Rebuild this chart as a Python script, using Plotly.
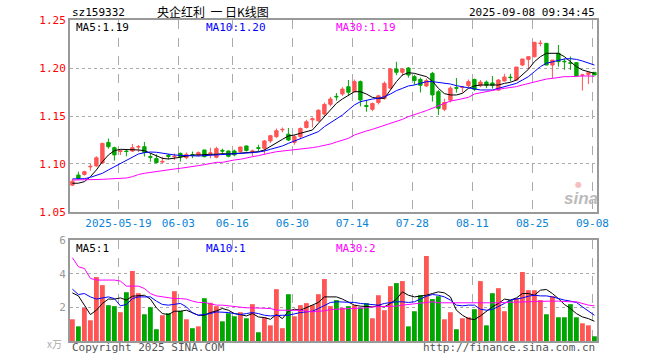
import pandas as pd
import plotly.graph_objects as go

# ---------------- data ----------------
dates = [d.strftime("%Y-%m-%d") for d in pd.bdate_range("2025-05-07", "2025-09-08")
         if d.strftime("%Y-%m-%d") != "2025-06-02"]

opens = [1.078, 1.0885, 1.089, 1.097, 1.098, 1.101, 1.1225, 1.117, 1.113, 1.1135,
         1.1135, 1.1177, 1.118, 1.1077, 1.1056, 1.102, 1.109, 1.1076, 1.111, 1.1066,
         1.1097, 1.1094, 1.1146, 1.111, 1.107, 1.1142, 1.1135, 1.1135, 1.113, 1.1188,
         1.1128, 1.117, 1.1164, 1.124, 1.1285, 1.1355, 1.131, 1.1225, 1.1285, 1.138,
         1.146, 1.145, 1.152, 1.1622, 1.1705, 1.173, 1.1805, 1.1753, 1.1858, 1.161,
         1.157, 1.164, 1.1684, 1.179, 1.199, 1.1955, 1.200, 1.191, 1.188, 1.1813,
         1.1944, 1.1753, 1.157, 1.1665, 1.1795, 1.1797, 1.1816, 1.188, 1.1816, 1.1853,
         1.1844, 1.177, 1.1865, 1.1905, 1.1875, 1.2031, 1.209, 1.2118, 1.2255, 1.2257,
         1.2031, 1.2153, 1.207, 1.2055, 1.2056, 1.1925, 1.1934, 1.1955]
highs = [1.084, 1.092, 1.093, 1.100, 1.108, 1.122, 1.1265, 1.118, 1.1153, 1.1153,
         1.1208, 1.1198, 1.123, 1.111, 1.110, 1.1076, 1.1104, 1.111, 1.112, 1.112,
         1.113, 1.113, 1.1146, 1.117, 1.118, 1.116, 1.114, 1.115, 1.118, 1.119,
         1.115, 1.120, 1.125, 1.130, 1.137, 1.138, 1.1375, 1.1305, 1.138, 1.146,
         1.1485, 1.157, 1.164, 1.170, 1.174, 1.180, 1.1875, 1.188, 1.187, 1.1667,
         1.164, 1.172, 1.186, 1.200, 1.2065, 1.200, 1.201, 1.193, 1.190, 1.189,
         1.196, 1.177, 1.168, 1.181, 1.1896, 1.181, 1.188, 1.189, 1.1875, 1.187,
         1.1917, 1.1885, 1.194, 1.194, 1.201, 1.2094, 1.2125, 1.2268, 1.229, 1.2257,
         1.2083, 1.224, 1.210, 1.212, 1.2056, 1.194, 1.195, 1.1955]
lows = [1.077, 1.084, 1.088, 1.093, 1.097, 1.100, 1.116, 1.1035, 1.1094, 1.108,
        1.1125, 1.1125, 1.1077, 1.1024, 1.1007, 1.1007, 1.1049, 1.104, 1.1024, 1.105,
        1.106, 1.108, 1.107, 1.106, 1.106, 1.111, 1.107, 1.108, 1.112, 1.113,
        1.108, 1.113, 1.110, 1.122, 1.127, 1.133, 1.124, 1.120, 1.126, 1.137,
        1.138, 1.144, 1.150, 1.160, 1.166, 1.171, 1.1715, 1.1745, 1.160, 1.1545,
        1.155, 1.162, 1.167, 1.178, 1.1925, 1.192, 1.190, 1.1825, 1.1745, 1.180,
        1.165, 1.151, 1.155, 1.164, 1.1743, 1.1743, 1.180, 1.176, 1.180, 1.179,
        1.1785, 1.176, 1.186, 1.186, 1.187, 1.202, 1.1986, 1.211, 1.2225, 1.203,
        1.1893, 1.2014, 1.198, 1.198, 1.1917, 1.1764, 1.1833, 1.1927]
closes = [1.082, 1.085, 1.092, 1.0975, 1.1065, 1.1215, 1.118, 1.1095, 1.1137, 1.113,
          1.117, 1.118, 1.112, 1.107, 1.1014, 1.1027, 1.108, 1.108, 1.1076, 1.110,
          1.109, 1.1118, 1.1076, 1.1115, 1.116, 1.1135, 1.108, 1.1095, 1.1177, 1.114,
          1.1135, 1.1164, 1.124, 1.1295, 1.1347, 1.136, 1.125, 1.1285, 1.137, 1.144,
          1.147, 1.156, 1.162, 1.1677, 1.170, 1.178, 1.1747, 1.1858, 1.1667, 1.160,
          1.163, 1.171, 1.184, 1.199, 1.1955, 1.199, 1.1927, 1.187, 1.182, 1.1868,
          1.172, 1.158, 1.164, 1.179, 1.179, 1.180, 1.1858, 1.1778, 1.1853, 1.182,
          1.182, 1.1875, 1.1906, 1.190, 1.201, 1.2094, 1.2118, 1.2268, 1.2258, 1.2031,
          1.2083, 1.2066, 1.2066, 1.205, 1.1917, 1.1927, 1.195, 1.1927]

ma5 = [1.0799, 1.0800, 1.0816, 1.0868, 1.0938, 1.1024, 1.1094, 1.1139, 1.1153, 1.1153,
       1.1146, 1.1146, 1.1139, 1.1111, 1.1083, 1.1059, 1.1052, 1.1059, 1.1070, 1.1083,
       1.1094, 1.1094, 1.1101, 1.1101, 1.1101, 1.1108, 1.1104, 1.1108, 1.1115, 1.1118,
       1.1122, 1.1128, 1.1146, 1.1180, 1.1222, 1.1257, 1.1292, 1.1302, 1.1320, 1.1337,
       1.1354, 1.1424, 1.1493, 1.1570, 1.1632, 1.1677, 1.1719, 1.1753, 1.1753, 1.1729,
       1.1694, 1.1684, 1.1684, 1.1771, 1.1858, 1.1927, 1.1951, 1.1944, 1.1927, 1.1910,
       1.1863, 1.1788, 1.1733, 1.1719, 1.1719, 1.1736, 1.1788, 1.1813, 1.1823, 1.1823,
       1.1823, 1.1823, 1.1840, 1.1851, 1.1875, 1.1927, 1.1986, 1.2066, 1.2118, 1.2153,
       1.2153, 1.2153, 1.2118, 1.2066, 1.2014, 1.1979, 1.1962, 1.1944]
ma10 = [1.0844, 1.0844, 1.0847, 1.0861, 1.0882, 1.0903, 1.0938, 1.0972, 1.1007, 1.1042,
        1.1076, 1.1104, 1.1118, 1.1125, 1.1122, 1.1111, 1.1101, 1.1094, 1.1090, 1.1087,
        1.1083, 1.1083, 1.1087, 1.1090, 1.1097, 1.1101, 1.1104, 1.1108, 1.1111, 1.1115,
        1.1118, 1.1125, 1.1135, 1.1153, 1.1170, 1.1188, 1.1215, 1.1240, 1.1267, 1.1285,
        1.1309, 1.1337, 1.1389, 1.1431, 1.1469, 1.1510, 1.1563, 1.1615, 1.1649, 1.1667,
        1.1677, 1.1684, 1.1701, 1.1729, 1.1764, 1.1788, 1.1813, 1.1823, 1.1840, 1.1858,
        1.1858, 1.1851, 1.1840, 1.1833, 1.1816, 1.1806, 1.1795, 1.1781, 1.1771, 1.1771,
        1.1771, 1.1788, 1.1806, 1.1823, 1.1840, 1.1875, 1.1910, 1.1962, 1.2014, 1.2049,
        1.2066, 1.2076, 1.2094, 1.2097, 1.2090, 1.2073, 1.2056, 1.2031]
ma30 = [1.0833, 1.0833, 1.0833, 1.0833, 1.0836, 1.0840, 1.0844, 1.0847, 1.0851, 1.0854,
        1.0868, 1.0890, 1.0903, 1.0913, 1.0920, 1.0931, 1.0938, 1.0948, 1.0955, 1.0962,
        1.0972, 1.0983, 1.0993, 1.1007, 1.1017, 1.1017, 1.1031, 1.1042, 1.1049, 1.1059,
        1.1076, 1.1087, 1.1104, 1.1115, 1.1128, 1.1135, 1.1135, 1.1146, 1.1153, 1.1160,
        1.1170, 1.1181, 1.1191, 1.1208, 1.1229, 1.1250, 1.1267, 1.1302, 1.1326, 1.1344,
        1.1361, 1.1382, 1.1396, 1.1417, 1.1441, 1.1465, 1.1493, 1.1510, 1.1535, 1.1556,
        1.1580, 1.1604, 1.1625, 1.1656, 1.1667, 1.1684, 1.1694, 1.1729, 1.1743, 1.1753,
        1.1771, 1.1778, 1.1788, 1.1795, 1.1806, 1.1823, 1.1840, 1.1858, 1.1875, 1.1885,
        1.1892, 1.1903, 1.1910, 1.1910, 1.1917, 1.1917, 1.1917, 1.1913]

volume = [1.29, 0.87, 1.97, 1.23, 3.80, 3.32, 2.13, 2.07, 1.71, 2.90,
          4.16, 2.84, 1.59, 2.01, 0.70, 1.53, 1.65, 2.96, 1.79, 1.29,
          0.76, 0.87, 2.54, 2.27, 2.07, 1.17, 1.65, 1.47, 1.71, 1.35,
          2.19, 0.52, 1.41, 0.93, 3.08, 0.76, 2.78, 1.47, 2.13, 2.25,
          2.13, 2.78, 3.68, 2.07, 2.43, 1.97, 2.07, 2.13, 1.97, 2.25,
          1.35, 2.72, 1.83, 3.26, 3.44, 3.56, 0.87, 1.77, 2.72, 5.05,
          2.49, 2.66, 1.29, 1.71, 0.70, 1.35, 1.41, 1.89, 3.56, 0.93,
          2.84, 3.14, 1.77, 2.43, 2.54, 4.10, 3.02, 3.02, 2.43, 1.59,
          2.66, 1.41, 1.41, 2.19, 1.41, 1.05, 0.93, 0.28]
vma5 = [2.86, 2.68, 2.13, 1.57, 1.83, 2.23, 2.49, 2.49, 2.56, 2.43,
        2.66, 2.68, 2.72, 2.49, 1.97, 1.63, 1.57, 1.77, 1.77, 1.83,
        1.69, 1.53, 1.53, 1.69, 1.79, 1.93, 1.83, 1.63, 1.57, 1.49,
        1.63, 1.43, 1.39, 1.29, 1.57, 1.33, 1.77, 1.89, 1.83, 1.97,
        2.13, 2.29, 2.62, 2.62, 2.62, 2.49, 2.33, 2.13, 2.07, 2.07,
        2.03, 2.09, 2.03, 2.23, 2.49, 2.92, 2.72, 2.62, 2.66, 2.72,
        2.82, 2.92, 2.86, 2.62, 1.83, 1.53, 1.33, 1.27, 1.49, 1.77,
        2.03, 2.23, 2.49, 2.43, 2.56, 2.82, 2.82, 2.72, 3.02, 3.06,
        2.82, 2.52, 2.17, 1.93, 1.63, 1.43, 1.33, 1.17]
vma10 = [3.08, 2.76, 2.82, 2.62, 2.49, 2.56, 2.62, 2.52, 2.09, 2.17,
         2.52, 2.62, 2.62, 2.62, 2.37, 2.17, 2.13, 2.19, 2.23, 2.03,
         1.67, 1.53, 1.57, 1.63, 1.73, 1.73, 1.69, 1.63, 1.57, 1.63,
         1.69, 1.63, 1.53, 1.49, 1.53, 1.53, 1.53, 1.63, 1.69, 1.73,
         1.77, 1.93, 2.13, 2.29, 2.33, 2.33, 2.33, 2.29, 2.23, 2.19,
         2.13, 2.13, 2.23, 2.29, 2.33, 2.33, 2.29, 2.33, 2.49, 2.66,
         2.76, 2.72, 2.62, 2.43, 2.13, 2.09, 2.13, 2.13, 1.89, 1.83,
         1.87, 2.03, 2.23, 2.43, 2.49, 2.56, 2.66, 2.72, 2.68, 2.68,
         2.62, 2.52, 2.43, 2.37, 2.29, 2.03, 1.77, 1.53]
vma30 = [4.95, 4.41, 4.31, 3.72, 3.62, 3.62, 3.62, 3.62, 3.56, 3.26,
         3.26, 3.26, 3.12, 2.82, 2.68, 2.62, 2.56, 2.52, 2.52, 2.49,
         2.37, 2.29, 2.29, 2.23, 2.13, 2.13, 2.09, 2.03, 1.97, 1.97,
         1.97, 1.97, 1.97, 1.93, 1.83, 1.83, 1.83, 1.83, 1.83, 1.77,
         1.73, 1.77, 1.79, 1.87, 1.89, 1.89, 1.89, 1.93, 1.93, 1.97,
         2.03, 2.03, 2.07, 2.07, 2.07, 2.13, 2.17, 2.17, 2.23, 2.29,
         2.33, 2.27, 2.27, 2.27, 2.27, 2.23, 2.23, 2.23, 2.23, 2.23,
         2.23, 2.27, 2.29, 2.29, 2.33, 2.33, 2.33, 2.35, 2.37, 2.37,
         2.37, 2.37, 2.33, 2.33, 2.33, 2.23, 2.13, 2.09]

tick_dates = ["2025-05-19", "2025-06-03", "2025-06-16", "2025-06-30", "2025-07-14",
              "2025-07-28", "2025-08-11", "2025-08-25", "2025-09-08"]
tick_text = ["2025-05-19", "06-03", "06-16", "06-30", "07-14", "07-28", "08-11", "08-25", "09-08"]
price_ticks = [1.05, 1.10, 1.15, 1.20, 1.25]
vol_ticks = [2, 4, 6]

# ---------------- styling ----------------
RED = "#FF5555"
GREEN = "#00A600"
MONO = "DejaVu Sans Mono, Liberation Mono, monospace"
GRID = "#AAAAAA"
BORDER = "#999999"

x = list(range(len(dates)))
tickvals = [dates.index(d) - 0.33 for d in tick_dates]
vol_colors = [RED if c >= o else GREEN for o, c in zip(opens, closes)]

fig = go.Figure()
fig.add_trace(go.Candlestick(
    x=x, open=opens, high=highs, low=lows, close=closes,
    increasing=dict(line=dict(color=RED, width=1), fillcolor=RED),
    decreasing=dict(line=dict(color=GREEN, width=1), fillcolor=GREEN),
    whiskerwidth=0, xaxis="x", yaxis="y", hoverinfo="skip", showlegend=False))
for series, col in [(ma5, "#000000"), (ma10, "#0000FF"), (ma30, "#FF00FF")]:
    fig.add_trace(go.Scatter(x=x, y=series, mode="lines", line=dict(color=col, width=1),
                             xaxis="x", yaxis="y", hoverinfo="skip", showlegend=False))

fig.add_trace(go.Bar(x=x, y=volume, marker=dict(color=vol_colors, line=dict(width=0)),
                     width=0.8, xaxis="x2", yaxis="y2", hoverinfo="skip", showlegend=False))
for series, col in [(vma5, "#000000"), (vma10, "#0000FF"), (vma30, "#FF00FF")]:
    fig.add_trace(go.Scatter(x=x, y=series, mode="lines", line=dict(color=col, width=1),
                             xaxis="x2", yaxis="y2", hoverinfo="skip", showlegend=False))

xr = [-0.4, len(dates) - 0.57]
common_x = dict(range=xr, tickmode="array", tickvals=tickvals, showgrid=True,
                gridcolor=GRID, griddash="dash", gridwidth=1, zeroline=False,
                showline=True, mirror=True, linecolor=BORDER, linewidth=2,
                ticks="", fixedrange=True)

fig.update_layout(
    width=660, height=360,
    margin=dict(l=70, r=63, t=20, b=19),
    paper_bgcolor="white", plot_bgcolor="white",
    font=dict(family=MONO, size=10, color="#000"),
    boxgap=0.2,
    xaxis=dict(**common_x, ticktext=tick_text, showticklabels=True,
               tickfont=dict(family=MONO, size=11, color="#0A84D6"),
               rangeslider=dict(visible=False), anchor="y", domain=[0, 1]),
    yaxis=dict(domain=[0.4019, 1.0], range=[1.05, 1.25], tickmode="array",
               tickvals=price_ticks, ticktext=[f"{v:.2f}" for v in price_ticks],
               tickfont=dict(family=MONO, size=11, color="#FF0000"),
               showgrid=True, gridcolor=GRID, griddash="dot", gridwidth=1,
               zeroline=False, showline=True, mirror=True, linecolor=BORDER,
               linewidth=2, ticks="", anchor="x", fixedrange=True),
    xaxis2=dict(**common_x, showticklabels=False, anchor="y2", domain=[0, 1]),
    yaxis2=dict(domain=[0, 0.3146], range=[0, 6], tickmode="array",
                tickvals=vol_ticks, ticktext=[str(v) for v in vol_ticks],
                tickfont=dict(family=MONO, size=11, color="#999999"),
                showgrid=True, gridcolor=GRID, griddash="dot", gridwidth=1,
                zeroline=False, showline=True, mirror=True, linecolor=BORDER,
                linewidth=2, ticks="", anchor="x2", fixedrange=True),
)

def note(text, xp, yp, color="#000", xanchor="left", size=10, family=MONO, **kw):
    fig.add_annotation(text=text, x=xp, y=yp, xref="paper", yref="paper",
                       xanchor=xanchor, yanchor="middle", showarrow=False,
                       font=dict(family=family, size=size, color=color), **kw)

W, H = 527.0, 321.0
def px(xp):  # pixel x -> paper
    return (xp - 70) / W
def py(yp):  # pixel y -> paper
    return (341 - yp) / H

# header
note("sz159332", px(70), py(12), size=11)
note("央企红利\u00a0\u00a0一\u00a0日K线图", px(213), py(11), xanchor="center", size=12,
     family="Noto Sans CJK SC")
note("2025-09-08 09:34:45", px(597), py(12), xanchor="right", size=11)

# MA legends
note("MA5:1.19", px(74), py(27), color="#000000", size=11)
note("MA10:1.20", px(204), py(27), color="#0000FF", size=11)
note("MA30:1.19", px(334), py(27), color="#FF00FF", size=11)
note("MA5:1", px(74), py(248), color="#000000", size=11)
note("MA10:1", px(204), py(248), color="#0000FF", size=11)
note("MA30:2", px(334), py(248), color="#FF00FF", size=11)

# footer and unit
note("x万", px(64), py(344), color="#AAAAAA", xanchor="right", size=10,
     family="Noto Sans CJK SC")
note("Copyright 2025 SINA.COM", px(70), py(347), color="#555555", size=11)
note("http://finance.sina.com.cn", px(597), py(347), color="#555555", xanchor="right", size=11)

# watermark
note("<b><i>sina</i></b>", px(581), py(198), color="#BBBBBB", xanchor="center", size=17,
     family="Arial, Liberation Sans, sans-serif")
note("●", px(578), py(184), color="#F7C0C0", xanchor="center", size=8,
     family="DejaVu Sans")

fig.write_html("out.html", config={"displayModeBar": False},
               post_script="document.body.style.margin='0px';document.body.style.padding='0px';")
